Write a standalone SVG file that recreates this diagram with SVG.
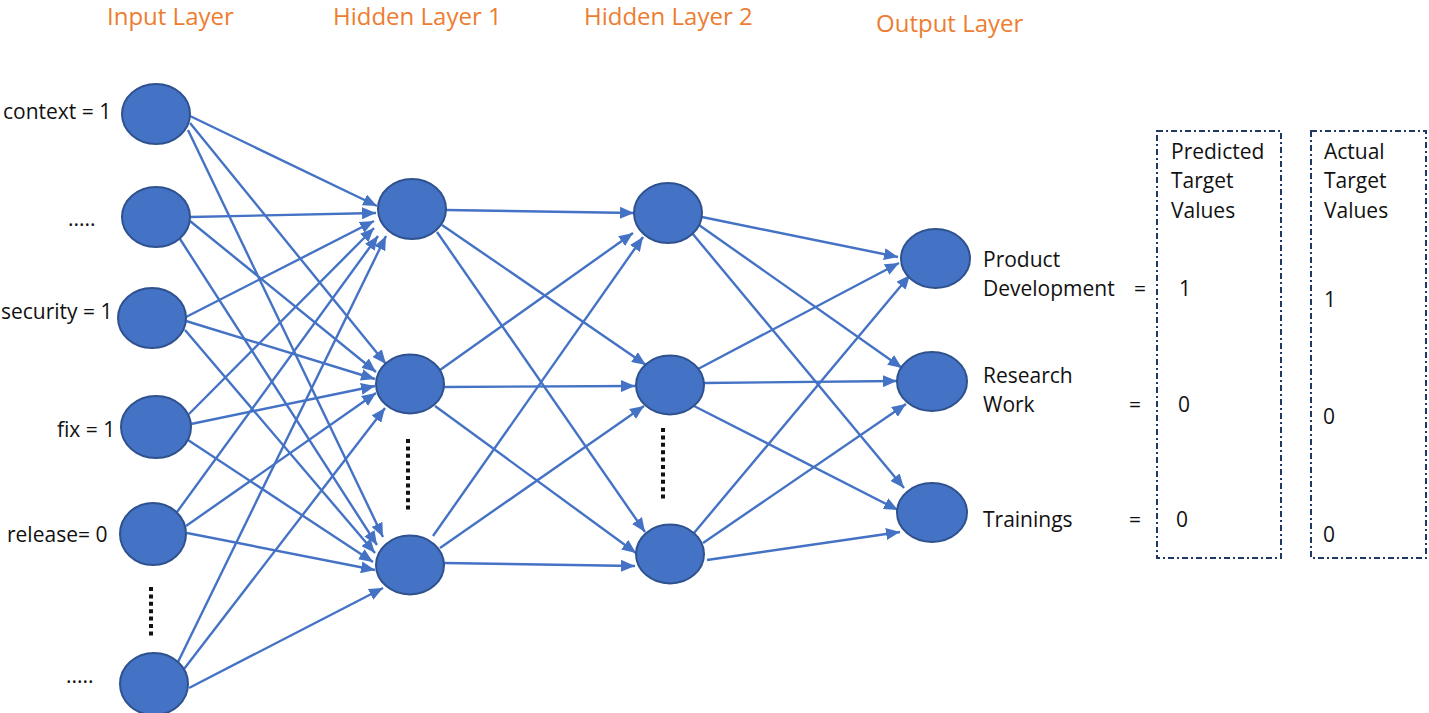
<svg xmlns="http://www.w3.org/2000/svg" width="1429" height="713" viewBox="0 0 1429 713">
<style>
.node{fill:#4472C4;stroke:#2F528F;stroke-width:2}
.edge{stroke:#4472C4;stroke-width:2.4;fill:none;marker-end:url(#arr)}
.title{font-family:"Open Sans","Liberation Sans",sans-serif;font-size:24px;fill:#ED7D31}
.lbl{font-family:"Open Sans","Liberation Sans",sans-serif;font-size:21px;fill:#111}
.dots{stroke:#111;stroke-width:4;stroke-dasharray:4 3.4;fill:none}
.box{fill:none;stroke:#1F3864;stroke-width:2;stroke-dasharray:6 3 2 3}
</style>
<defs>
<marker id="arr" markerUnits="userSpaceOnUse" markerWidth="15" markerHeight="12" refX="14" refY="6" orient="auto">
<path d="M0,0 L14,6 L0,12 Z" fill="#4472C4"/>
</marker>
</defs>
<rect width="1429" height="713" fill="#fff"/>
<g id="titles">
<text class="title" x="107" y="25">Input Layer</text>
<text class="title" x="333" y="25">Hidden Layer 1</text>
<text class="title" x="584" y="25">Hidden Layer 2</text>
<text class="title" x="876" y="32">Output Layer</text>
</g>
<g id="connectors">
<line class="edge" x1="190" y1="116" x2="377" y2="206"/>
<line class="edge" x1="190" y1="217" x2="376" y2="213"/>
<line class="edge" x1="186" y1="317" x2="374" y2="221"/>
<line class="edge" x1="189" y1="414" x2="374" y2="228"/>
<line class="edge" x1="177" y1="512" x2="378" y2="236"/>
<line class="edge" x1="178" y1="662" x2="386" y2="236"/>
<line class="edge" x1="190" y1="123" x2="386" y2="364"/>
<line class="edge" x1="190" y1="221" x2="376" y2="372"/>
<line class="edge" x1="186" y1="321" x2="375" y2="379"/>
<line class="edge" x1="191" y1="424" x2="375" y2="386"/>
<line class="edge" x1="186" y1="526" x2="376" y2="393"/>
<line class="edge" x1="184" y1="669" x2="385" y2="408"/>
<line class="edge" x1="188" y1="130" x2="383" y2="537"/>
<line class="edge" x1="180" y1="239" x2="377" y2="545"/>
<line class="edge" x1="185" y1="330" x2="375" y2="553"/>
<line class="edge" x1="188" y1="440" x2="373" y2="562"/>
<line class="edge" x1="187" y1="533" x2="375" y2="570"/>
<line class="edge" x1="189" y1="688" x2="383" y2="588"/>
<line class="edge" x1="446" y1="210" x2="634" y2="213"/>
<line class="edge" x1="442" y1="225" x2="646" y2="365"/>
<line class="edge" x1="437" y1="232" x2="645" y2="532"/>
<line class="edge" x1="440" y1="370" x2="633" y2="233"/>
<line class="edge" x1="444" y1="387" x2="635" y2="386"/>
<line class="edge" x1="435" y1="406" x2="636" y2="553"/>
<line class="edge" x1="433" y1="536" x2="643" y2="237"/>
<line class="edge" x1="440" y1="548" x2="644" y2="406"/>
<line class="edge" x1="444" y1="563" x2="635" y2="566"/>
<line class="edge" x1="702" y1="217" x2="898" y2="257"/>
<line class="edge" x1="699" y1="225" x2="902" y2="368"/>
<line class="edge" x1="692" y1="233" x2="904" y2="488"/>
<line class="edge" x1="698" y1="369" x2="899" y2="263"/>
<line class="edge" x1="704" y1="383" x2="897" y2="381"/>
<line class="edge" x1="694" y1="406" x2="898" y2="510"/>
<line class="edge" x1="694" y1="533" x2="910" y2="275"/>
<line class="edge" x1="703" y1="543" x2="906" y2="404"/>
<line class="edge" x1="707" y1="560" x2="900" y2="532"/>
</g>
<g id="input-layer">
<ellipse class="node" cx="156" cy="114" rx="34" ry="30"/>
<ellipse class="node" cx="156" cy="217" rx="34" ry="30"/>
<ellipse class="node" cx="152" cy="318" rx="34" ry="30"/>
<ellipse class="node" cx="156" cy="427" rx="35" ry="31"/>
<ellipse class="node" cx="153" cy="534" rx="33" ry="31"/>
<ellipse class="node" cx="154" cy="684" rx="34" ry="31"/>
<path class="dots" d="M151,587 V637"/>
<text class="lbl" x="3" y="119">context = 1</text>
<text class="lbl" x="68" y="226">.....</text>
<text class="lbl" x="1" y="319">security = 1</text>
<text class="lbl" x="57" y="437">fix = 1</text>
<text class="lbl" x="7" y="542">release= 0</text>
<text class="lbl" x="66" y="683">.....</text>
</g>
<g id="hidden-layer-1">
<ellipse class="node" cx="412" cy="209" rx="34" ry="30"/>
<ellipse class="node" cx="410" cy="384" rx="34" ry="29.5"/>
<ellipse class="node" cx="410" cy="565" rx="34" ry="29.5"/>
<path class="dots" d="M408,439 V512"/>
</g>
<g id="hidden-layer-2">
<ellipse class="node" cx="668" cy="213" rx="34" ry="30"/>
<ellipse class="node" cx="670" cy="385" rx="34" ry="29.5"/>
<ellipse class="node" cx="670" cy="554" rx="34" ry="29.5"/>
<path class="dots" d="M663,428 V502"/>
</g>
<g id="output-layer">
<ellipse class="node" cx="935.5" cy="258.5" rx="34.5" ry="29.5"/>
<ellipse class="node" cx="932" cy="381.5" rx="35" ry="29.5"/>
<ellipse class="node" cx="932" cy="512.5" rx="35" ry="29.5"/>
<text class="lbl" x="983" y="267">Product</text>
<text class="lbl" x="983" y="296">Development</text>
<text class="lbl" x="1134" y="296">=</text>
<text class="lbl" x="983" y="383">Research</text>
<text class="lbl" x="983" y="412">Work</text>
<text class="lbl" x="1129" y="412">=</text>
<text class="lbl" x="983" y="527">Trainings</text>
<text class="lbl" x="1129" y="527">=</text>
</g>
<g id="predicted-box">
<rect class="box" x="1157" y="131" width="124" height="427"/>
<text class="lbl" x="1171" y="159">Predicted</text>
<text class="lbl" x="1171" y="188">Target</text>
<text class="lbl" x="1171" y="218">Values</text>
<text class="lbl" x="1179" y="296">1</text>
<text class="lbl" x="1178" y="412">0</text>
<text class="lbl" x="1176" y="527">0</text>
</g>
<g id="actual-box">
<rect class="box" x="1311" y="131" width="115" height="427"/>
<text class="lbl" x="1324" y="159">Actual</text>
<text class="lbl" x="1324" y="188">Target</text>
<text class="lbl" x="1324" y="218">Values</text>
<text class="lbl" x="1324" y="307">1</text>
<text class="lbl" x="1323" y="424">0</text>
<text class="lbl" x="1323" y="542">0</text>
</g>
</svg>
